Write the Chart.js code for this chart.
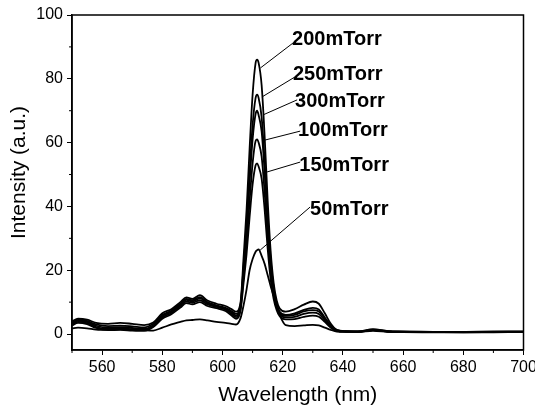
<!DOCTYPE html>
<html><head><meta charset="utf-8">
<script src="https://cdn.jsdelivr.net/npm/chart.js@4"></script>
<style>html,body{margin:0;padding:0;background:#fff;} canvas{display:block;}</style>
</head><body>
<canvas id="c" width="535" height="406"></canvas>
<script>
const wavelength = [550, 552, 555, 558, 562, 566, 570, 574, 577, 580,
  583, 586, 588, 590, 592.5, 595, 598, 601, 603, 604.5,
  606, 607, 608, 609, 610, 611, 611.5, 612, 613, 614,
  615, 616, 617, 618, 619, 621, 624, 627, 630, 632,
  634, 636, 638, 641, 645, 650, 655, 660, 670, 680,
  690, 700];

const p200 = [4, 4.8, 4.5, 3.5, 3.2, 3.5, 3.2, 2.8, 3.6, 6.5,
  7.8, 10, 11.5, 11, 12.2, 10.5, 9.5, 8.8, 7.8, 7,
  10, 24, 39, 58, 75, 85, 86, 85, 78, 62,
  42, 26, 16, 10.5, 8, 7, 7.8, 9.2, 10.2, 9.5,
  6.5, 3.2, 1.3, 0.9, 0.8, 1.5, 0.9, 0.8, 0.7, 0.7,
  0.8, 0.8];
const p250 = [3.6, 4.4, 4.1, 3, 2.5, 2.6, 2.4, 2.1, 3.2, 6,
  7.3, 9.5, 11, 10.6, 11.6, 10, 9, 8.2, 7.2, 6.3,
  9.2, 21.4, 34.4, 50.8, 65.5, 74, 75, 74, 68, 54,
  37, 23, 14.6, 9.5, 7, 6, 6.5, 7.6, 8.2, 7.7,
  5.2, 2.7, 1.2, 0.85, 0.8, 1.4, 0.85, 0.75, 0.7, 0.65,
  0.7, 0.75];
const p300 = [3.3, 4.1, 3.8, 2.6, 2, 2.1, 1.9, 1.6, 2.8, 5.6,
  7, 9.2, 10.7, 10.2, 11.2, 9.7, 8.8, 7.9, 6.8, 5.8,
  8.8, 20.2, 32.3, 47.5, 61, 69, 70, 68.6, 63.5, 50.7,
  34.9, 22, 14, 9, 6.7, 5.7, 6, 7.1, 7.5, 7.1,
  4.8, 2.5, 1.1, 0.8, 0.75, 1.3, 0.8, 0.7, 0.65, 0.6,
  0.7, 0.7];
const p100 = [3, 3.8, 3.4, 2.2, 1.6, 1.7, 1.5, 1.3, 2.5, 5.2,
  6.6, 8.8, 10.2, 9.8, 10.6, 9.3, 8.5, 7.6, 6.3, 5.3,
  8, 17.8, 28.3, 41.6, 53.5, 60.5, 61, 60, 55.6, 44.4,
  30.7, 19.5, 12.5, 8.3, 6.3, 5.2, 5.4, 6.3, 6.7, 6.3,
  4.3, 2.3, 1, 0.8, 0.75, 1.2, 0.8, 0.7, 0.6, 0.6,
  0.65, 0.7];
const p150 = [2.7, 3.5, 3.1, 1.9, 1.2, 1.3, 1.1, 1, 2.2, 4.8,
  6.2, 8.3, 9.7, 9.3, 10, 8.8, 8.1, 7.2, 5.8, 4.8,
  7.5, 16, 25.1, 36.6, 46.9, 52.9, 53.5, 52.5, 48.7, 39,
  26.8, 17, 11, 7.5, 5.6, 4.6, 4.7, 5.4, 5.8, 5.4,
  3.8, 2, 1, 0.75, 0.7, 1.2, 0.75, 0.65, 0.6, 0.55,
  0.6, 0.65];
const p50 = [1.8, 2, 1.8, 1.4, 1.3, 1.5, 1.4, 1.2, 1.1, 2,
  3, 3.8, 4.3, 4.4, 4.6, 4.3, 3.8, 3.5, 3.2, 3,
  5, 9, 14, 20, 23.5, 25.8, 26.3, 26.5, 24.5, 22,
  18.5, 15, 12, 9, 6, 2.8, 2.5, 2.7, 2.9, 2.7,
  2, 1.3, 0.8, 0.7, 0.65, 1, 0.7, 0.6, 0.55, 0.5,
  0.55, 0.6];

const seriesNames = ['50mTorr', '100mTorr', '150mTorr', '200mTorr', '250mTorr', '300mTorr'];
const seriesValues = [p50, p100, p150, p200, p250, p300];

const xTicks = [560, 580, 600, 620, 640, 660, 680, 700];
const yTicks = [0, 20, 40, 60, 80, 100];
const xMinor = [550, 570, 590, 610, 630, 650, 670, 690];
const yMinor = [10, 30, 50, 70, 90];

const xTitle = 'Wavelength (nm)';
const yTitle = 'Intensity (a.u.)';

// annotation labels (data units)
const labelText = ['200mTorr', '250mTorr', '300mTorr', '100mTorr', '150mTorr', '50mTorr'];
const labelX = [623.1, 623.4, 624.1, 625.1, 625.5, 629.1];
const labelY = [92.2, 81.2, 72.8, 63.7, 52.8, 38.9];
const leaderFromX = [612.6, 613.1, 613.5, 614.1, 614.8, 612.5];
const leaderFromY = [83.4, 74.3, 68.7, 60.8, 50.8, 26.3];
const leaderToX = [623.4, 624.1, 624.8, 625.8, 625.8, 629.1];
const leaderToY = [91.2, 80.6, 73.4, 63.6, 53.9, 39.8];

const FONT = '"Liberation Sans", Arial, Helvetica, sans-serif';

const decor = {
  id: 'decor',
  afterDraw(chart) {
    const {ctx, chartArea: a, scales: {x, y}} = chart;
    ctx.save();
    ctx.strokeStyle = '#000';
    ctx.lineWidth = 1.5;
    ctx.strokeRect(a.left, a.top, a.right - a.left, a.bottom - a.top);
    ctx.lineWidth = 1;
    ctx.beginPath();
    xMinor.forEach(v => { const px = x.getPixelForValue(v); ctx.moveTo(px, a.bottom); ctx.lineTo(px, a.bottom + 3); });
    yMinor.forEach(v => { const py = y.getPixelForValue(v); ctx.moveTo(a.left, py); ctx.lineTo(a.left - 3, py); });
    ctx.stroke();
    ctx.lineWidth = 1;
    ctx.beginPath();
    for (let i = 0; i < labelText.length; i++) {
      ctx.moveTo(x.getPixelForValue(leaderFromX[i]), y.getPixelForValue(leaderFromY[i]));
      ctx.lineTo(x.getPixelForValue(leaderToX[i]), y.getPixelForValue(leaderToY[i]));
    }
    ctx.stroke();
    ctx.fillStyle = '#000';
    ctx.font = 'bold 20px ' + FONT;
    ctx.textAlign = 'left';
    ctx.textBaseline = 'middle';
    for (let i = 0; i < labelText.length; i++) {
      ctx.fillText(labelText[i], x.getPixelForValue(labelX[i]), y.getPixelForValue(labelY[i]));
    }
    // y-axis title, placed slightly above the centre as in the original
    ctx.font = '21px ' + FONT;
    ctx.textAlign = 'center';
    ctx.translate(19, a.top + (a.bottom - a.top) * 0.47);
    ctx.rotate(-Math.PI / 2);
    ctx.fillText(yTitle, 0, 0);
    ctx.restore();
  }
};

new Chart(document.getElementById('c'), {
  type: 'line',
  data: {
    datasets: seriesNames.map((n, k) => ({
      label: n,
      data: wavelength.map((w, i) => ({x: w, y: seriesValues[k][i]})),
      borderColor: '#000',
      borderWidth: 1.8,
      pointRadius: 0,
      fill: false,
      cubicInterpolationMode: 'monotone'
    }))
  },
  options: {
    responsive: false,
    animation: false,
    devicePixelRatio: 1,
    layout: {padding: {top: 15, right: 11.5, left: 0, bottom: 0}},
    plugins: {legend: {display: false}, tooltip: {enabled: false}},
    scales: {
      x: {
        type: 'linear', min: 550, max: 700,
        afterBuildTicks: s => { s.ticks = xTicks.map(v => ({value: v})); },
        afterFit: s => { s.height = 56; s.paddingLeft = 0; s.paddingRight = 0; },
        grid: {drawOnChartArea: false, drawTicks: true, tickLength: 5, tickColor: '#000', tickWidth: 1},
        border: {display: true, color: '#000', width: 1.5},
        ticks: {autoSkip: false, maxRotation: 0, padding: 3, color: '#000', font: {family: FONT, size: 16}},
        title: {display: true, text: xTitle, color: '#000', padding: {top: 0, bottom: 0}, font: {family: FONT, size: 21, lineHeight: 1}}
      },
      y: {
        type: 'linear', min: -5, max: 100,
        afterBuildTicks: s => { s.ticks = yTicks.map(v => ({value: v})); },
        afterFit: s => { s.width = 72; },
        grid: {drawOnChartArea: false, drawTicks: true, tickLength: 5, tickColor: '#000', tickWidth: 1},
        border: {display: true, color: '#000', width: 1.5},
        ticks: {autoSkip: false, padding: 4, color: '#000', font: {family: FONT, size: 16}}
      }
    }
  },
  plugins: [decor]
});
</script>
</body></html>
